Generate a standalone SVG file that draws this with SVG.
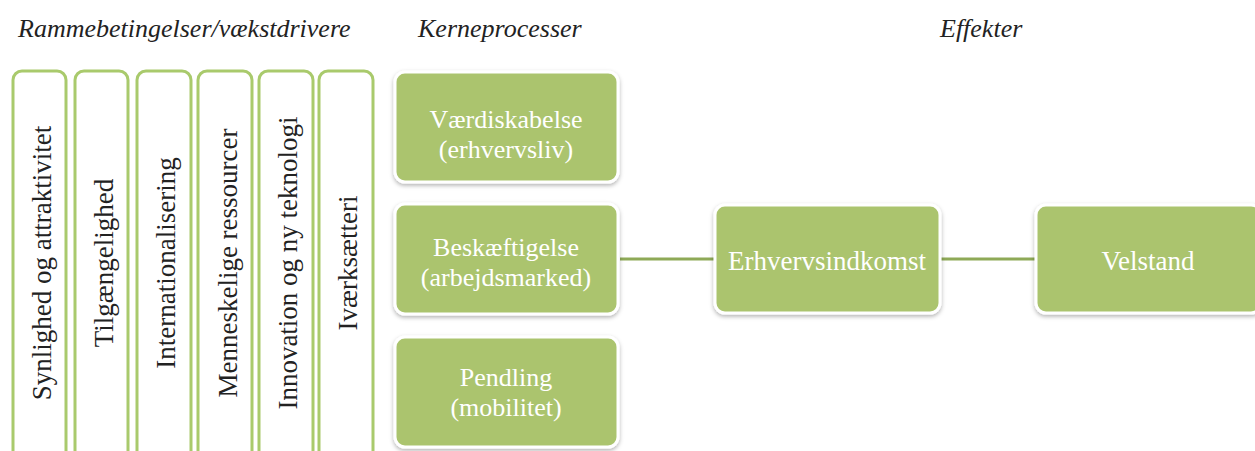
<svg xmlns="http://www.w3.org/2000/svg" width="1255" height="451" viewBox="0 0 1255 451">
  <defs>
    <filter id="sh" x="-10%" y="-10%" width="120%" height="130%">
      <feDropShadow dx="0" dy="2" stdDeviation="2" flood-color="#000" flood-opacity="0.3"/>
    </filter>
    <style>
      .hdr { font-family: "Liberation Serif", serif; font-style: italic; font-size: 26px; fill: #222; }
      .col { fill: #ffffff; stroke: #a9ca6c; stroke-width: 3; }
      .vt { font-family: "Liberation Serif", serif; font-size: 27px; fill: #222; text-anchor: middle; }
      .box { fill: #abc46e; stroke: #ffffff; stroke-width: 3; filter: url(#sh); }
      .bt { font-family: "Liberation Serif", serif; font-size: 27px; fill: #ffffff; text-anchor: middle; }
      .bt2 { font-family: "Liberation Serif", serif; font-size: 26px; fill: #ffffff; text-anchor: middle; }
      .conn { stroke: #8ea957; stroke-width: 3; fill: none; }
    </style>
  </defs>
  <rect width="1255" height="451" fill="#ffffff"/>

  <g id="headers">
    <text class="hdr" x="18" y="37">Rammebetingelser/vækstdrivere</text>
    <text class="hdr" x="418" y="37">Kerneprocesser</text>
    <text class="hdr" x="940" y="37">Effekter</text>
  </g>

  <g id="connectors">
    <line class="conn" x1="620" y1="259" x2="714" y2="259"/>
    <line class="conn" x1="941" y1="259" x2="1036" y2="259"/>
  </g>

  <g id="n-synlighed">
    <rect class="col" x="13" y="71" width="53" height="400" rx="9"/>
    <text class="vt" transform="translate(51,263) rotate(-90)">Synlighed og attraktivitet</text>
  </g>
  <g id="n-tilgaengelighed">
    <rect class="col" x="75" y="71" width="53" height="400" rx="9"/>
    <text class="vt" transform="translate(113,263) rotate(-90)">Tilgængelighed</text>
  </g>
  <g id="n-internationalisering">
    <rect class="col" x="137" y="71" width="54" height="400" rx="9"/>
    <text class="vt" transform="translate(175,263) rotate(-90)">Internationalisering</text>
  </g>
  <g id="n-menneskelige">
    <rect class="col" x="198" y="71" width="54" height="400" rx="9"/>
    <text class="vt" transform="translate(237,263) rotate(-90)">Menneskelige ressourcer</text>
  </g>
  <g id="n-innovation">
    <rect class="col" x="259" y="71" width="54" height="400" rx="9"/>
    <text class="vt" transform="translate(297,263) rotate(-90)">Innovation og ny teknologi</text>
  </g>
  <g id="n-ivaerksaetteri">
    <rect class="col" x="319" y="71" width="54" height="400" rx="9"/>
    <text class="vt" transform="translate(357,263) rotate(-90)">Iværksætteri</text>
  </g>

  <g id="n-vaerdiskabelse">
    <rect class="box" x="395" y="72" width="223" height="110" rx="10"/>
    <text class="bt2" x="506" y="128">Værdiskabelse</text>
    <text class="bt2" x="506" y="158">(erhvervsliv)</text>
  </g>
  <g id="n-beskaeftigelse">
    <rect class="box" x="395" y="204" width="223" height="110" rx="10"/>
    <text class="bt2" x="506" y="256">Beskæftigelse</text>
    <text class="bt2" x="506" y="286">(arbejdsmarked)</text>
  </g>
  <g id="n-pendling">
    <rect class="box" x="395" y="337" width="223" height="110" rx="10"/>
    <text class="bt2" x="506" y="386">Pendling</text>
    <text class="bt2" x="506" y="416">(mobilitet)</text>
  </g>

  <g id="n-erhvervsindkomst">
    <rect class="box" x="715" y="205" width="225" height="108" rx="10"/>
    <text class="bt" x="827" y="270">Erhvervsindkomst</text>
  </g>
  <g id="n-velstand">
    <rect class="box" x="1036" y="205" width="225" height="108" rx="10"/>
    <text class="bt" x="1148" y="270">Velstand</text>
  </g>
</svg>
